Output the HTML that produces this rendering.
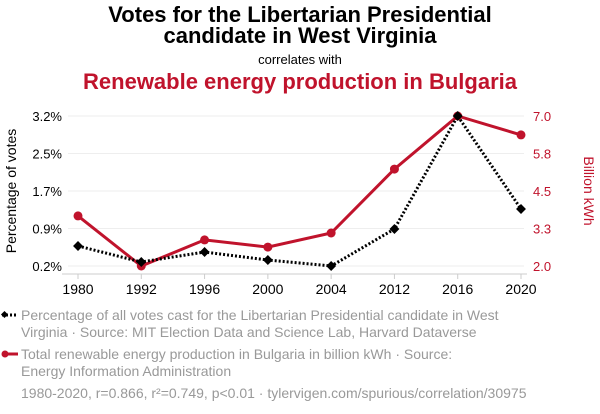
<!DOCTYPE html>
<html><head><meta charset="utf-8"><style>
body{margin:0;background:#fff;}
svg{display:block;font-family:"Liberation Sans",Arial,sans-serif;}
</style></head><body>
<svg id="chart" width="600" height="414" viewBox="0 0 600 414">
<text x="300" y="22" text-anchor="middle" font-size="22" font-weight="bold" fill="#000">Votes for the Libertarian Presidential</text>
<text x="300" y="43" text-anchor="middle" font-size="22" font-weight="bold" fill="#000">candidate in West Virginia</text>
<text x="300" y="64" text-anchor="middle" font-size="13" fill="#000">correlates with</text>
<text x="300" y="89" text-anchor="middle" font-size="22" font-weight="bold" fill="#c0132c">Renewable energy production in Bulgaria</text>
<g id="grid"></g><g id="axes"></g><g id="series"></g>
<text transform="translate(16,191) rotate(-90)" text-anchor="middle" font-size="14" fill="#000">Percentage of votes</text>
<text transform="translate(584,191) rotate(90)" text-anchor="middle" font-size="14" fill="#c0132c">Billion kWh</text>
<g>
<line x1="2" y1="315" x2="18" y2="315" stroke="#000" stroke-width="3" stroke-dasharray="2,2"/>
<rect x="2" y="312" width="5" height="5" transform="rotate(45 4.5 314.5)" fill="#000"/>
<text x="21" y="320" font-size="14" fill="#999">Percentage of all votes cast for the Libertarian Presidential candidate in West</text>
<text x="21" y="337" font-size="14" fill="#999">Virginia · Source: MIT Election Data and Science Lab, Harvard Dataverse</text>
</g>
<g>
<line x1="4" y1="354" x2="18" y2="354" stroke="#c0132c" stroke-width="3"/>
<circle cx="5" cy="354" r="3.5" fill="#c0132c"/>
<text x="21" y="359" font-size="14" fill="#999">Total renewable energy production in Bulgaria in billion kWh · Source:</text>
<text x="21" y="376" font-size="14" fill="#999">Energy Information Administration</text>
</g>
<text x="21" y="398" font-size="14" fill="#999">1980-2020, r=0.866, r²=0.749, p&lt;0.01 · tylervigen.com/spurious/correlation/30975</text>
</svg>
<script>
const years=["1980","1992","1996","2000","2004","2012","2016","2020"];
const votes=[0.6,0.28,0.48,0.32,0.2,0.94,3.2,1.34];
const energy=[3.67,2.0,2.87,2.63,3.1,5.23,7.0,6.37];
const leftTicks=[0.2,0.95,1.7,2.45,3.2];
const leftTickLabels=["0.2%","0.9%","1.7%","2.5%","3.2%"];
const rightTicks=[2.0,3.25,4.5,5.75,7.0];
const rightTickLabels=["2.0","3.3","4.5","5.8","7.0"];
const NS="http://www.w3.org/2000/svg";
const x0=78,x1=521,yTop=116,yBot=266;
function xs(i){return x0+i*(x1-x0)/(years.length-1);}
function yl(v){return yBot-(v-0.2)/(3.2-0.2)*(yBot-yTop);}
function yr(v){return yBot-(v-2)/(7-2)*(yBot-yTop);}
function mk(tag,at,parent){const e=document.createElementNS(NS,tag);for(const k in at)e.setAttribute(k,at[k]);parent.appendChild(e);return e;}
const grid=document.getElementById('grid'),axes=document.getElementById('axes'),ser=document.getElementById('series');
leftTicks.forEach((t,i)=>{
 const g=mk('line',{x1:68,x2:524,y1:yl(t),y2:yl(t),stroke:'#eee','stroke-width':1},grid);
 
 
 const l=mk('text',{x:62,y:yl(t)+5,'text-anchor':'end','font-size':13,fill:'#000'},axes);
 l.textContent=leftTickLabels[i];
 
 
});
rightTicks.forEach((t,i)=>{
 const l=mk('text',{x:533,y:yr(t)+5,'font-size':13,fill:'#c0132c'},axes);
 l.textContent=rightTickLabels[i];
 
 
});
const ax=mk('line',{x1:62,x2:527,y1:274,y2:274,stroke:'#ccc','stroke-width':1},axes);


years.forEach((y,i)=>{
 mk('line',{x1:xs(i),x2:xs(i),y1:274,y2:279,stroke:'#ccc'},axes);
 const l=mk('text',{x:xs(i),y:294,'text-anchor':'middle','font-size':14,fill:'#000'},axes);
 l.textContent=y;
 
 
});
const rp=mk('polyline',{points:energy.map((v,i)=>xs(i)+','+yr(v)).join(' '),fill:'none',stroke:'#c0132c','stroke-width':3},ser);


energy.forEach((v,i)=>{
 const c=mk('circle',{cx:xs(i),cy:yr(v),r:4.5,fill:'#c0132c'},ser);
 
 
});
const bp=mk('polyline',{points:votes.map((v,i)=>xs(i)+','+yl(v)).join(' '),fill:'none',stroke:'#000','stroke-width':3,'stroke-dasharray':'2,2'},ser);


votes.forEach((v,i)=>{
 const d=mk('rect',{x:xs(i)-3.5,y:yl(v)-3.5,width:7,height:7,fill:'#000',transform:`rotate(45 ${xs(i)} ${yl(v)})`},ser);
 
 
});
</script>
</body></html>
